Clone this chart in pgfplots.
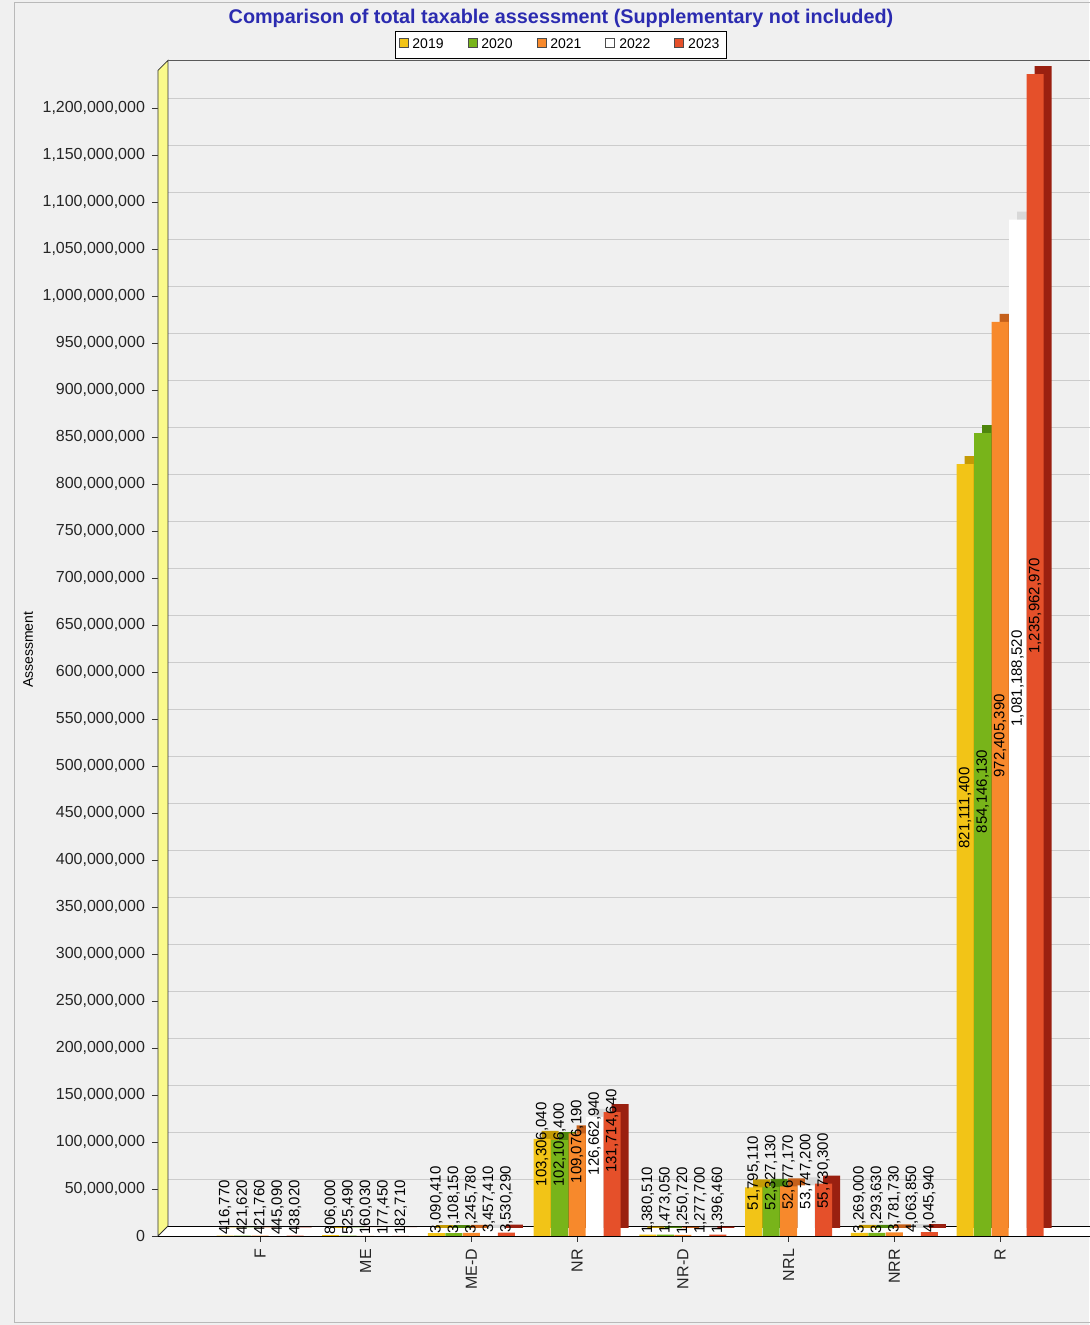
\documentclass[border=0pt]{standalone}
\usepackage{pgfplots}
\pgfplotsset{compat=1.18}
\usepackage{pgfplotstable}
\usepackage{fontspec}
\setmainfont{Liberation Sans}
\definecolor{bg}{HTML}{F0F0F0}
\definecolor{titleblue}{HTML}{2B2BB0}
\definecolor{wall}{HTML}{FAFA8A}
\definecolor{c19}{HTML}{F2C417}
\definecolor{s19}{HTML}{C49A05}
\definecolor{c20}{HTML}{78B41A}
\definecolor{s20}{HTML}{4E860C}
\definecolor{c21}{HTML}{F7892C}
\definecolor{s21}{HTML}{C5601A}
\definecolor{c22}{HTML}{FFFFFF}
\definecolor{s22}{HTML}{D8D8D8}
\definecolor{c23}{HTML}{E5502A}
\definecolor{s23}{HTML}{9A2010}

\ExplSyntaxOn
\int_new:N \l_cf_int
\tl_new:N \l_cf_tl
\tl_new:N \l_cfin_tl
\NewDocumentCommand \commafy { m }
  {
    \tl_set:Nx \l_cfin_tl { #1 }
    \tl_clear:N \l_cf_tl
    \int_set:Nn \l_cf_int { \tl_count:N \l_cfin_tl }
    \tl_map_inline:Nn \l_cfin_tl
      {
        \tl_put_right:Nn \l_cf_tl { ##1 }
        \int_decr:N \l_cf_int
        \bool_if:nT
          { \int_compare_p:n { \l_cf_int > 0 } && \int_compare_p:n { \int_mod:nn { \l_cf_int } { 3 } = 0 } }
          { \tl_put_right:Nn \l_cf_tl { , } }
      }
    \tl_use:N \l_cf_tl
  }
\ExplSyntaxOff

\pgfplotstableread{
x v19 v20 v21 v22 v23
0 416770 421620 421760 445090 438020
1 806000 525490 160030 177450 182710
2 3090410 3108150 3245780 3457410 3530290
3 103306040 102106400 109076190 126662940 131714640
4 1380510 1473050 1250720 1277700 1396460
5 51795110 52327130 52677170 53747200 55730300
6 3269000 3293630 3781730 4063850 4045940
7 821111400 854146130 972405390 1081188520 1235962970
}\data

\pgfplotsset{
  shadowbar/.style 2 args={ybar, bar width=8.5pt, bar shift=#1, fill=#2, draw=none, xshift=4pt, yshift=4pt, forget plot},
  frontbar/.style n args={3}{ybar, bar width=8.5pt, bar shift=#1, fill=#3, draw=none,
    point meta=y,
    visualization depends on={\coordindex \as \ci},
    nodes near coords={\pgfmathtruncatemacro{\ii}{\ci}\pgfplotstablegetelem{\ii}{#2}\of\data\commafy{\pgfplotsretval}},
    every node near coord/.append style={xshift=#1, yshift={-0.2914pt*\pgfplotspointmetatransformed}, rotate=90, anchor=west, inner sep=0.5pt, font=\fontsize{7.5}{8}\selectfont, text=black}},
}

\begin{document}
\begin{tikzpicture}
\path[fill=bg, use as bounding box] (-79pt,-44.5pt) rectangle (465.5pt,618pt);
\draw[gray!55] (-72pt,-43pt) -- (-72pt,617pt) -- (470pt,617pt);
\draw[gray!55] (-72pt,-43pt) -- (470pt,-43pt);
\begin{axis}[
  scale only axis, width=480pt, height=582.8pt,
  xmin=-0.965, xmax=8.116, ymin=0, ymax=1.24e9,
  clip=false,
  axis lines=left, axis line style={draw=none,-},
  point meta min=0, point meta max=1.24e9,
  /pgf/number format/assume math mode=true,
  scaled y ticks=false,
  ytick={0,0.5e8,1e8,1.5e8,2e8,2.5e8,3e8,3.5e8,4e8,4.5e8,5e8,5.5e8,6e8,6.5e8,7e8,7.5e8,8e8,8.5e8,9e8,9.5e8,10e8,10.5e8,11e8,11.5e8,12e8},
  yticklabel style={/pgf/number format/fixed, /pgf/number format/1000 sep={,}, font=\fontsize{8}{9}\selectfont, text=black!85},
  xtick={0,1,2,3,4,5,6,7},
  xticklabels={F,ME,ME-D,NR,NR-D,NRL,NRR,R},
  xticklabel style={rotate=90, anchor=east, font=\fontsize{8}{9}\selectfont, text=black!85},
  tick style={black!80, thin},
  tick align=outside, major tick length=3pt,
  ymajorgrids, major grid style={draw=gray!40, xshift=5pt, yshift=5pt},
  ylabel={Assessment},
  ylabel style={font=\fontsize{7}{8}\selectfont, at={(axis description cs:-0.1354,0.503)}, anchor=center},
  legend columns=5,
  legend style={at={(axis description cs:0.4198,1.0338)}, anchor=north, draw=black, fill=white,
    font=\fontsize{7}{8}\selectfont, inner sep=1.5pt,
    /tikz/every even column/.append style={column sep=10pt}},
  legend image code/.code={\draw[#1, draw=black!70] (0pt,-1.5pt) rectangle (4.5pt,3pt);},
]
% floor
\fill[white] (rel axis cs:0,0) -- (rel axis cs:1,0) -- ([xshift=5pt,yshift=5pt]rel axis cs:1,0) -- ([xshift=5pt,yshift=5pt]rel axis cs:0,0) -- cycle;
\draw[black] (rel axis cs:0,0) -- (rel axis cs:1,0);
\draw[black] ([xshift=5pt,yshift=5pt]rel axis cs:0,0) -- ([xshift=5pt,yshift=5pt]rel axis cs:1,0);
% wall
\fill[wall] (rel axis cs:0,0) -- (rel axis cs:0,1) -- ([xshift=5pt,yshift=5pt]rel axis cs:0,1) -- ([xshift=5pt,yshift=5pt]rel axis cs:0,0) -- cycle;
\draw[black!80] (rel axis cs:0,0) -- (rel axis cs:0,1) -- ([xshift=5pt,yshift=5pt]rel axis cs:0,1) -- ([xshift=5pt,yshift=5pt]rel axis cs:0,0) -- cycle;
\draw[gray!70!black] ([xshift=5pt,yshift=5pt]rel axis cs:0,1) -- ([xshift=5pt,yshift=5pt]rel axis cs:1,1);
% shadows (3D sides)
\addplot[shadowbar={-17.5pt}{s19}] table[x=x,y=v19]{\data};
\addplot[shadowbar={-8.75pt}{s20}] table[x=x,y=v20]{\data};
\addplot[shadowbar={0pt}{s21}] table[x=x,y=v21]{\data};
\addplot[shadowbar={8.75pt}{s22}] table[x=x,y=v22]{\data};
\addplot[shadowbar={17.5pt}{s23}] table[x=x,y=v23]{\data};
% fronts
\addplot[frontbar={-17.5pt}{v19}{c19}] table[x=x,y=v19]{\data};
\addlegendentry{2019}
\addplot[frontbar={-8.75pt}{v20}{c20}] table[x=x,y=v20]{\data};
\addlegendentry{2020}
\addplot[frontbar={0pt}{v21}{c21}] table[x=x,y=v21]{\data};
\addlegendentry{2021}
\addplot[frontbar={8.75pt}{v22}{c22}] table[x=x,y=v22]{\data};
\addlegendentry{2022}
\addplot[frontbar={17.5pt}{v23}{c23}] table[x=x,y=v23]{\data};
\addlegendentry{2023}
\end{axis}
\node[font=\bfseries\fontsize{9.9}{11}\selectfont, text=titleblue] at (201.5pt,609pt) {Comparison of total taxable assessment (Supplementary not included)};
\end{tikzpicture}
\end{document}
